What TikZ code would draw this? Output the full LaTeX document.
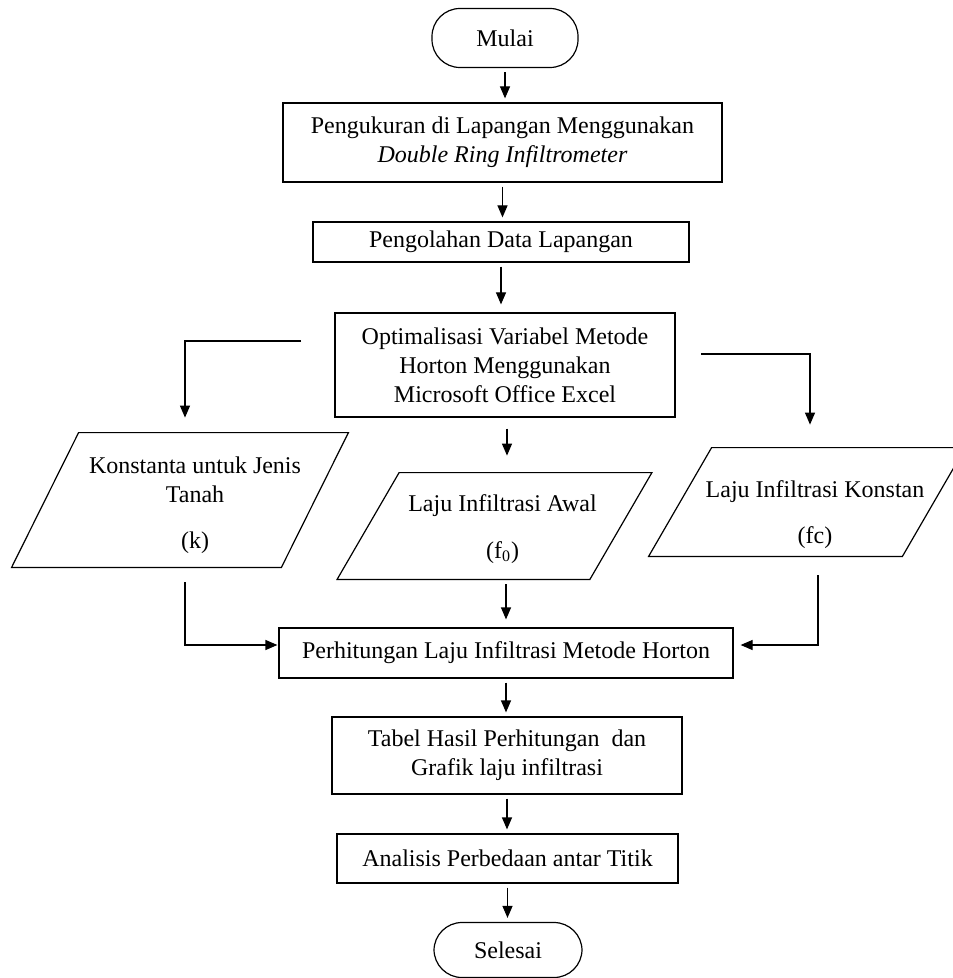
\documentclass[tikz,border=0pt]{standalone}
\usepackage{fontspec}
\setmainfont{Liberation Serif}
\usetikzlibrary{arrows.meta}

\begin{document}
\begin{tikzpicture}[x=0.5pt,y=-0.5pt,
  every node/.style={font=\fontsize{12}{14.5}\selectfont},
  garis/.style={line width=0.6pt},
  proses/.style={draw,garis,align=center,inner sep=0pt},
  ujung/.style={draw,garis,rounded corners=14pt,inner sep=0pt},
  data/.style={inner sep=0pt},
  teks/.style={align=center,inner sep=0pt},
  panah/.style={-{Triangle[width=5pt,length=6pt]},garis,shorten <=2pt,shorten >=2pt}]
\useasboundingbox (0,0) rectangle (952,978);

\node (mulai) at (505,38) [ujung,minimum width=73pt,minimum height=29.5pt]{Mulai};
\node (ukur) at (502.5,142.5) [proses,minimum width=219.5pt,minimum height=39.5pt]{Pengukuran di Lapangan Menggunakan\\\textit{Double Ring Infiltrometer}};
\node (olah) at (501,242) [proses,minimum width=188pt,minimum height=20pt]{Pengolahan Data Lapangan};
\node (optim) at (505,365) [proses,minimum width=170pt,minimum height=52pt]{Optimalisasi Variabel Metode\\Horton Menggunakan\\Microsoft Office Excel};

\node (kons) at (180,500) [data,minimum width=134.5pt,minimum height=67pt,label={[teks,xshift=7.5pt,yshift=-2.5pt]center:Konstanta untuk Jenis\\Tanah\\[8.5pt](k)}]{};
\node (awal) at (494.5,526) [data,minimum width=126pt,minimum height=53pt,label={[teks,xshift=4pt,yshift=-1.5pt]center:Laju Infiltrasi Awal\\[9pt](f\textsubscript{0})}]{};
\node (konst) at (807,502) [data,minimum width=126.5pt,minimum height=54pt,label={[teks,xshift=4pt,yshift=-6.5pt]center:Laju Infiltrasi Konstan\\[8.5pt](fc)}]{};
\draw[garis] ([xshift=-16.75pt]kons.south west) -- ([xshift=-16.75pt]kons.south east) -- ([xshift=16.75pt]kons.north east) -- ([xshift=16.75pt]kons.north west) -- cycle;
\draw[garis] ([xshift=-15.5pt]awal.south west) -- ([xshift=-15.5pt]awal.south east) -- ([xshift=15.5pt]awal.north east) -- ([xshift=15.5pt]awal.north west) -- cycle;
\draw[garis] ([xshift=-15.75pt]konst.south west) -- ([xshift=-15.75pt]konst.south east) -- ([xshift=15.75pt]konst.north east) -- ([xshift=15.75pt]konst.north west) -- cycle;

\node (hitung) at (506,653) [proses,minimum width=227pt,minimum height=25pt]{Perhitungan Laju Infiltrasi Metode Horton};
\node (tabel) at (507,755.5) [proses,minimum width=175pt,minimum height=38.5pt]{Tabel Hasil Perhitungan\ \ dan\\Grafik laju infiltrasi};
\node (analisis) at (507.5,858.5) [proses,minimum width=170.5pt,minimum height=24.5pt]{Analisis Perbedaan antar Titik};
\node (selesai) at (508,950) [ujung,minimum width=74pt,minimum height=27.5pt]{Selesai};

\coordinate (kiri) at (301,341);
\coordinate (kanan) at (701,354);

\draw[panah] (mulai.south) -- (mulai.south |- ukur.north);
\draw[panah] (ukur.south) -- (ukur.south |- olah.north);
\draw[panah,shorten >=4pt] (olah.south) -- (olah.south |- optim.north);
\draw[panah,shorten <=5.5pt,shorten >=8.5pt] ([xshift=1pt]optim.south) -- ([xshift=1pt]optim.south |- awal.north);
\draw[panah,shorten <=0pt,shorten >=7.5pt] (kiri) -| ([xshift=2.5pt]kons.north);
\draw[panah,shorten <=0pt,shorten >=11.5pt] (kanan) -| ([xshift=1.5pt]konst.north);
\draw[panah,shorten <=2.5pt,shorten >=4pt] (hitung.north |- awal.south) -- (hitung.north);
\draw[panah,shorten <=7.5pt,shorten >=0.5pt] ([xshift=2.5pt]kons.south) |- ([yshift=4pt]hitung.west);
\draw[panah,shorten <=9.5pt,shorten >=3.5pt] ([xshift=5.5pt]konst.south) |- ([yshift=4pt]hitung.east);
\draw[panah] (hitung.south) -- (hitung.south |- tabel.north);
\draw[panah] (tabel.south) -- (tabel.south |- analisis.north);
\draw[panah] (analisis.south) -- (analisis.south |- selesai.north);

\end{tikzpicture}
\end{document}
